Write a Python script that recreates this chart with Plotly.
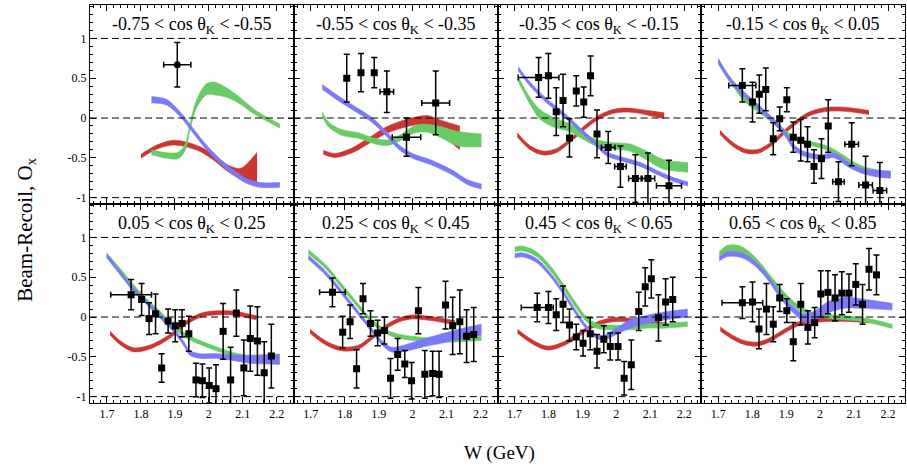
import numpy as np
import plotly.graph_objects as go
from plotly.subplots import make_subplots

# ---- angular bins (one panel each) ----
BIN_LABELS = [
    "-0.75 < cos θ<sub>K</sub> < -0.55",
    "-0.55 < cos θ<sub>K</sub> < -0.35",
    "-0.35 < cos θ<sub>K</sub> < -0.15",
    "-0.15 < cos θ<sub>K</sub> < 0.05",
    "0.05 < cos θ<sub>K</sub> < 0.25",
    "0.25 < cos θ<sub>K</sub> < 0.45",
    "0.45 < cos θ<sub>K</sub> < 0.65",
    "0.65 < cos θ<sub>K</sub> < 0.85",
]

# ---- measured O_x points ----
W_PTS = [
    [1.907],
    [1.806, 1.848, 1.887, 1.924, 1.982, 2.068],
    [1.771, 1.800, 1.823, 1.843, 1.862, 1.882, 1.904, 1.924, 1.943, 1.976, 2.012, 2.056, 2.093, 2.155],
    [1.771, 1.801, 1.821, 1.840, 1.862, 1.881, 1.902, 1.921, 1.943, 1.963, 1.982, 2.004, 2.024, 2.054, 2.093, 2.134, 2.176],
    [1.771, 1.802, 1.824, 1.843, 1.861, 1.880, 1.901, 1.921, 1.941, 1.962, 1.981, 2.001, 2.021, 2.042, 2.064, 2.081, 2.103, 2.122, 2.143, 2.163, 2.184],
    [1.764, 1.794, 1.816, 1.835, 1.854, 1.876, 1.897, 1.917, 1.935, 1.956, 1.977, 1.997, 2.017, 2.036, 2.059, 2.078, 2.097, 2.118, 2.139, 2.159, 2.180],
    [1.767, 1.800, 1.823, 1.843, 1.862, 1.882, 1.902, 1.923, 1.943, 1.963, 1.982, 2.005, 2.023, 2.044, 2.066, 2.085, 2.103, 2.124, 2.145, 2.166],
    [1.771, 1.801, 1.820, 1.842, 1.862, 1.881, 1.902, 1.921, 1.943, 1.964, 1.984, 2.002, 2.023, 2.044, 2.064, 2.085, 2.105, 2.125, 2.144, 2.166],
]
OX_PTS = [
    [0.67],
    [0.50, 0.57, 0.57, 0.33, -0.24, 0.19],
    [0.51, 0.53, 0.08, 0.22, -0.25, 0.34, 0.20, 0.53, -0.20, -0.37, -0.61, -0.76, -0.76, -0.85],
    [0.41, 0.20, 0.30, 0.36, -0.26, -0.01, 0.23, -0.24, -0.28, -0.33, -0.61, -0.51, -0.10, -0.80, -0.33, -0.84, -0.91],
    [0.28, 0.22, -0.02, 0.04, -0.64, -0.05, -0.11, -0.08, -0.21, -0.79, -0.80, -0.86, -0.90, -0.18, -0.79, 0.05, -0.64, -0.27, -0.30, -0.70, -0.49],
    [0.31, -0.19, -0.06, -0.65, 0.23, -0.08, -0.20, -0.17, -0.77, -0.47, -0.59, -0.80, 0.08, -0.72, -0.71, -0.72, 0.15, -0.11, -0.06, -0.24, -0.22],
    [0.12, 0.12, 0.03, 0.16, -0.10, -0.25, -0.33, -0.21, -0.43, -0.28, -0.37, -0.37, -0.77, -0.60, 0.07, 0.38, 0.48, -0.01, 0.19, 0.22],
    [0.18, 0.19, -0.15, 0.10, -0.09, 0.24, 0.08, -0.31, 0.16, -0.13, -0.07, 0.29, 0.31, 0.24, 0.30, 0.30, 0.41, 0.16, 0.60, 0.53],
]
OX_ERR = [
    [0.28],
    [0.30, 0.24, 0.19, 0.26, 0.24, 0.40],
    [0.25, 0.28, 0.30, 0.33, 0.24, 0.19, 0.19, 0.25, 0.30, 0.20, 0.26, 0.30, 0.32, 0.32],
    [0.21, 0.25, 0.24, 0.27, 0.20, 0.15, 0.15, 0.19, 0.26, 0.22, 0.21, 0.25, 0.33, 0.25, 0.27, 0.36, 0.35],
    [0.19, 0.20, 0.20, 0.25, 0.18, 0.15, 0.20, 0.17, 0.22, 0.21, 0.21, 0.22, 0.30, 0.35, 0.41, 0.29, 0.35, 0.41, 0.43, 0.39, 0.40],
    [0.18, 0.20, 0.21, 0.24, 0.19, 0.16, 0.16, 0.17, 0.25, 0.20, 0.17, 0.23, 0.29, 0.30, 0.28, 0.29, 0.30, 0.36, 0.40, 0.33, 0.34],
    [0.18, 0.20, 0.20, 0.23, 0.20, 0.16, 0.16, 0.20, 0.21, 0.17, 0.17, 0.17, 0.21, 0.31, 0.24, 0.24, 0.24, 0.29, 0.29, 0.28],
    [0.20, 0.25, 0.25, 0.32, 0.22, 0.17, 0.15, 0.24, 0.26, 0.21, 0.19, 0.29, 0.27, 0.29, 0.27, 0.24, 0.26, 0.25, 0.26, 0.25],
]
W_ERR = [
    [0.04],
    [0, 0, 0, 0.02, 0.042, 0.041],
    [0.06, 0, 0, 0, 0, 0, 0, 0, 0, 0.02, 0.017, 0.02, 0.02, 0.037],
    [0.04, 0, 0, 0, 0, 0, 0, 0, 0, 0, 0, 0, 0, 0.017, 0.02, 0.02, 0.02],
    [0.06] + [0] * 20,
    [0.038] + [0] * 20,
    [0.047] + [0] * 19,
    [0.06] + [0] * 19,
]

# ---- model bands: centre value and half width ----
RED_W = [
    [1.800, 1.844, 1.893, 1.932, 1.974, 2.013, 2.052, 2.091, 2.111, 2.142],
    [1.737, 1.771, 1.820, 1.869, 1.919, 1.968, 2.017, 2.046, 2.085, 2.139],
    [1.708, 1.745, 1.784, 1.823, 1.862, 1.901, 1.941, 1.980, 2.020, 2.059, 2.099, 2.141],
    [1.705, 1.737, 1.776, 1.816, 1.855, 1.894, 1.933, 1.973, 2.022, 2.071, 2.144],
    [1.709, 1.738, 1.777, 1.817, 1.856, 1.895, 1.934, 1.974, 2.013, 2.071, 2.140],
    [1.698, 1.742, 1.791, 1.840, 1.879, 1.919, 1.958, 1.997, 2.036, 2.085, 2.124],
    [1.709, 1.748, 1.797, 1.843, 1.882, 1.922, 1.961, 2.000, 2.039, 2.088, 2.127, 2.150],
    [1.706, 1.737, 1.776, 1.816, 1.855, 1.894, 1.933, 1.973, 2.022, 2.081, 2.144],
]
RED_OX = [
    [-0.48, -0.37, -0.31, -0.33, -0.39, -0.49, -0.62, -0.70, -0.695, -0.625],
    [-0.43, -0.47, -0.41, -0.29, -0.16, -0.08, -0.03, -0.03, -0.12, -0.25],
    [-0.21, -0.37, -0.44, -0.41, -0.29, -0.14, -0.01, 0.07, 0.10, 0.09, 0.06, 0.03],
    [-0.18, -0.31, -0.41, -0.42, -0.33, -0.18, -0.04, 0.06, 0.11, 0.11, 0.07],
    [-0.20, -0.32, -0.41, -0.39, -0.32, -0.21, -0.07, 0.02, 0.05, 0.05, -0.01],
    [-0.18, -0.32, -0.40, -0.38, -0.26, -0.13, -0.04, 0.00, -0.01, -0.04, -0.07],
    [-0.18, -0.30, -0.39, -0.34, -0.24, -0.13, -0.06, -0.03, -0.04, -0.07, -0.09, -0.10],
    [-0.15, -0.24, -0.32, -0.34, -0.28, -0.18, -0.09, -0.05, -0.03, -0.03, -0.05],
]
RED_HW = [
    [0.025, 0.025, 0.03, 0.03, 0.03, 0.035, 0.04, 0.065, 0.115, 0.195],
    [0.025, 0.025, 0.03, 0.035, 0.04, 0.045, 0.05, 0.06, 0.09, 0.15],
    [0.025] * 10 + [0.03, 0.035],
    [0.025] * 11,
    [0.025] * 11,
    [0.025] * 11,
    [0.025] * 12,
    [0.025] * 11,
]

GREEN_W = [
    [1.831, 1.875, 1.910, 1.930, 1.944, 1.964, 1.993, 2.018, 2.052, 2.091, 2.130, 2.169, 2.209],
    [1.734, 1.752, 1.791, 1.840, 1.889, 1.928, 1.967, 2.007, 2.046, 2.085, 2.134, 2.203],
    [1.711, 1.745, 1.774, 1.813, 1.862, 1.901, 1.941, 1.990, 2.040, 2.089, 2.138, 2.211],
    [1.700, 1.737, 1.776, 1.826, 1.865, 1.904, 1.943, 1.982, 2.022, 2.061, 2.100, 2.140, 2.208],
    [1.699, 1.738, 1.777, 1.817, 1.856, 1.895, 1.934, 1.974, 2.023, 2.071, 2.120, 2.160],
    [1.693, 1.742, 1.791, 1.840, 1.879, 1.919, 1.958, 2.007, 2.056, 2.115, 2.203],
    [1.701, 1.726, 1.765, 1.804, 1.843, 1.882, 1.912, 1.941, 1.980, 2.039, 2.088, 2.137, 2.210],
    [1.703, 1.727, 1.766, 1.806, 1.845, 1.884, 1.924, 1.953, 1.982, 2.022, 2.071, 2.120, 2.169, 2.213],
]
GREEN_OX = [
    [-0.43, -0.47, -0.47, -0.37, -0.12, 0.18, 0.36, 0.37, 0.32, 0.22, 0.09, -0.01, -0.10],
    [0.05, -0.08, -0.18, -0.22, -0.29, -0.31, -0.24, -0.14, -0.13, -0.18, -0.26, -0.28],
    [0.49, 0.22, 0.05, -0.05, -0.12, -0.22, -0.31, -0.35, -0.37, -0.47, -0.58, -0.62],
    [0.70, 0.47, 0.26, 0.09, -0.05, -0.20, -0.29, -0.33, -0.38, -0.47, -0.58, -0.65, -0.70],
    [0.78, 0.59, 0.39, 0.20, 0.05, -0.12, -0.24, -0.32, -0.40, -0.47, -0.51, -0.53],
    [0.82, 0.64, 0.39, 0.14, -0.05, -0.18, -0.24, -0.27, -0.29, -0.29, -0.27],
    [0.85, 0.86, 0.79, 0.62, 0.39, 0.14, -0.03, -0.11, -0.13, -0.13, -0.11, -0.11, -0.09],
    [0.79, 0.86, 0.85, 0.73, 0.54, 0.33, 0.16, 0.08, 0.03, 0.01, -0.01, -0.03, -0.07, -0.12],
]
GREEN_HW = [
    [0.03, 0.035, 0.04, 0.04, 0.04, 0.05, 0.07, 0.08, 0.06, 0.04, 0.03, 0.025, 0.025],
    [0.03, 0.03, 0.035, 0.035, 0.035, 0.035, 0.04, 0.045, 0.05, 0.07, 0.09, 0.08],
    [0.03, 0.04, 0.06, 0.06, 0.05, 0.045, 0.04, 0.04, 0.045, 0.055, 0.06, 0.06],
    [0.025, 0.03, 0.045, 0.04, 0.03, 0.025, 0.025, 0.025, 0.025, 0.025, 0.025, 0.025, 0.025],
    [0.025] * 12,
    [0.025] * 11,
    [0.03] * 13,
    [0.03, 0.04, 0.04, 0.035, 0.03, 0.03, 0.03, 0.03, 0.025, 0.025, 0.025, 0.025, 0.025, 0.025],
]

BLUE_W = [
    [1.831, 1.875, 1.915, 1.954, 1.993, 2.032, 2.071, 2.111, 2.150, 2.209],
    [1.734, 1.791, 1.840, 1.879, 1.919, 1.958, 1.997, 2.056, 2.115, 2.164, 2.203],
    [1.711, 1.745, 1.794, 1.843, 1.892, 1.941, 1.971, 2.020, 2.069, 2.118, 2.167, 2.211],
    [1.700, 1.737, 1.776, 1.826, 1.865, 1.894, 1.924, 1.953, 2.002, 2.041, 2.081, 2.120, 2.169, 2.208],
    [1.699, 1.738, 1.777, 1.817, 1.856, 1.895, 1.924, 1.944, 1.974, 2.023, 2.071, 2.120, 2.179, 2.209],
    [1.693, 1.742, 1.791, 1.840, 1.879, 1.909, 1.938, 1.977, 2.036, 2.095, 2.154, 2.203],
    [1.701, 1.726, 1.765, 1.804, 1.843, 1.882, 1.912, 1.941, 1.961, 2.000, 2.039, 2.088, 2.137, 2.210],
    [1.703, 1.727, 1.766, 1.806, 1.845, 1.884, 1.924, 1.953, 1.982, 2.022, 2.071, 2.120, 2.169, 2.213],
]
BLUE_OX = [
    [0.23, 0.20, 0.05, -0.16, -0.37, -0.54, -0.68, -0.79, -0.84, -0.84],
    [0.39, 0.22, 0.09, -0.02, -0.18, -0.36, -0.47, -0.56, -0.68, -0.81, -0.86],
    [0.62, 0.43, 0.22, 0.05, -0.14, -0.33, -0.45, -0.52, -0.58, -0.68, -0.77, -0.83],
    [0.72, 0.47, 0.30, 0.11, -0.05, -0.18, -0.37, -0.45, -0.49, -0.47, -0.58, -0.66, -0.70, -0.71],
    [0.77, 0.56, 0.35, 0.18, 0.01, -0.16, -0.32, -0.45, -0.49, -0.49, -0.51, -0.53, -0.53, -0.53],
    [0.75, 0.56, 0.31, 0.05, -0.16, -0.32, -0.41, -0.39, -0.32, -0.26, -0.20, -0.16],
    [0.77, 0.78, 0.71, 0.54, 0.31, 0.05, -0.13, -0.24, -0.26, -0.18, -0.09, -0.03, 0.01, 0.05],
    [0.73, 0.79, 0.78, 0.68, 0.50, 0.26, 0.08, -0.01, 0.01, 0.12, 0.18, 0.17, 0.15, 0.13],
]
BLUE_HW = [
    [0.04, 0.035, 0.03, 0.03, 0.03, 0.03, 0.03, 0.03, 0.03, 0.03],
    [0.03] * 11,
    [0.025] * 12,
    [0.03] * 12 + [0.04, 0.045],
    [0.025, 0.025, 0.025, 0.025, 0.025, 0.025, 0.025, 0.03, 0.03, 0.03, 0.035, 0.05, 0.06, 0.065],
    [0.025, 0.025, 0.025, 0.025, 0.025, 0.025, 0.03, 0.04, 0.05, 0.06, 0.065, 0.07],
    [0.025] * 8 + [0.03, 0.04, 0.05, 0.05, 0.05, 0.05],
    [0.025, 0.03, 0.03, 0.03, 0.03, 0.03, 0.04, 0.05, 0.06, 0.07, 0.07, 0.06, 0.05, 0.04],
]

X_TICKS = [1.7, 1.8, 1.9, 2.0, 2.1, 2.2]
X_TICK_TEXT = ["1.7", "1.8", "1.9", "2", "2.1", "2.2"]
Y_TICKS = [-1, -0.5, 0, 0.5, 1]
Y_TICK_TEXT = ["-1", "-0.5", "0", "0.5", "1"]
REF_LINES = [-1, 0, 1]

SERIF = "Liberation Serif, Times New Roman, serif"
BANDS = [
    (RED_W, RED_OX, RED_HW, "#cd3532"),
    (GREEN_W, GREEN_OX, GREEN_HW, "#68cc66"),
    (BLUE_W, BLUE_OX, BLUE_HW, "#7a7af8"),
]

fig = make_subplots(rows=2, cols=4, horizontal_spacing=0, vertical_spacing=0)

for k in range(8):
    row, col = k // 4 + 1, k % 4 + 1

    # theory bands: lower edge, then upper edge filled down to it
    for ws, cs, hs, colour in BANDS:
        w = np.array(ws[k])
        c = np.array(cs[k])
        h = np.array(hs[k])
        fig.add_trace(go.Scatter(x=w, y=c - h, mode="lines",
                                 line=dict(color=colour, width=0.6, shape="spline", smoothing=0.9),
                                 hoverinfo="skip", showlegend=False), row=row, col=col)
        fig.add_trace(go.Scatter(x=w, y=c + h, mode="lines", fill="tonexty", fillcolor=colour,
                                 line=dict(color=colour, width=0.6, shape="spline", smoothing=0.9),
                                 hoverinfo="skip", showlegend=False), row=row, col=col)

    # measurements
    fig.add_trace(go.Scatter(
        x=W_PTS[k], y=OX_PTS[k], mode="markers",
        marker=dict(symbol="circle" if k == 0 else "square", size=7, color="black"),
        error_y=dict(type="data", array=OX_ERR[k], color="black", thickness=1.5, width=3),
        error_x=dict(type="data", array=W_ERR[k], color="black", thickness=1.5, width=3),
        showlegend=False), row=row, col=col)

    for yv in REF_LINES:
        fig.add_hline(y=yv, line=dict(color="black", width=1, dash="7px,4px"), row=row, col=col)

    n = "" if k == 0 else str(k + 1)
    fig.add_annotation(text=BIN_LABELS[k], xref=f"x{n} domain", yref=f"y{n} domain",
                       x=0.5, y=0.965, showarrow=False,
                       font=dict(family=SERIF, size=18, color="black"))

axis_common = dict(showline=True, linecolor="black", linewidth=1, mirror="allticks",
                   ticks="inside", tickcolor="black", ticklen=6, tickwidth=1,
                   showgrid=False, zeroline=False,
                   tickfont=dict(family=SERIF, size=12, color="black"))

for k in range(8):
    row, col = k // 4 + 1, k % 4 + 1
    fig.update_xaxes(range=[1.65, 2.25], tickvals=X_TICKS, ticktext=X_TICK_TEXT,
                     showticklabels=(row == 2),
                     minor=dict(ticks="inside", dtick=0.02, ticklen=3, tickcolor="black", showgrid=False),
                     row=row, col=col, **axis_common)
    fig.update_yaxes(range=[-1.08, 1.42], tickvals=Y_TICKS, ticktext=Y_TICK_TEXT,
                     showticklabels=(col == 1),
                     minor=dict(ticks="inside", dtick=0.1, ticklen=3, tickcolor="black", showgrid=False),
                     row=row, col=col, **axis_common)

fig.add_annotation(text="Beam-Recoil, O<sub>x</sub>", xref="paper", yref="paper",
                   x=-0.097, y=0.435, textangle=-90, showarrow=False,
                   font=dict(family=SERIF, size=21, color="black"))
fig.add_annotation(text="W (GeV)", xref="paper", yref="paper",
                   x=0.503, y=-0.158, showarrow=False,
                   font=dict(family=SERIF, size=19, color="black"))

fig.update_layout(width=907, height=468, margin=dict(l=90, r=2, t=5, b=65),
                  plot_bgcolor="white", paper_bgcolor="white", showlegend=False)

fig.write_html("out.html")
